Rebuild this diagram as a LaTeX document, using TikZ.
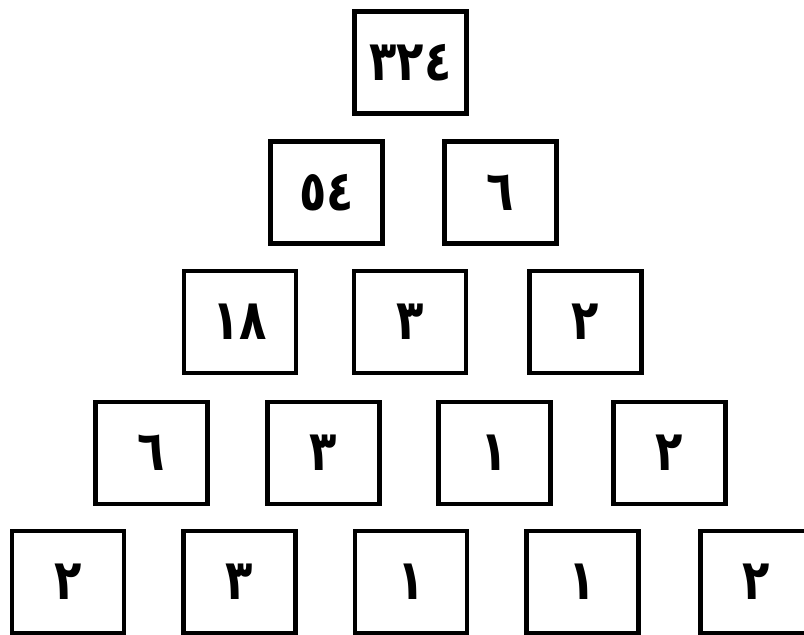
\documentclass[tikz,border=0pt]{standalone}
\usepackage{fontspec}
\newfontfamily\arabicfont[Script=Arabic,FakeStretch=0.8]{DejaVu Sans}
\begin{document}
\begin{tikzpicture}[x=1pt,y=-1pt,
  numbox/.style={draw=black,line width=4.4pt,minimum width=112pt,minimum height=102pt,inner sep=0pt,
    font=\arabicfont\bfseries\fontsize{56}{56}\selectfont},
]
\useasboundingbox (0,0) rectangle (804,635);
\clip (0,0) rectangle (804,635);
\fill[white] (0,0) rectangle (804,635);
% row 1
\node[numbox] (a1) at (410.5,62.5) {٣٢٤};
% row 2
\node[numbox] (b1) at (326.5,192.5) {٥٤};
\node[numbox] (b2) at (500.5,192.5) {٦};
% row 3
\node[numbox] (c1) at (240,322) {١٨};
\node[numbox] (c2) at (410,322) {٣};
\node[numbox] (c3) at (585.5,322) {٢};
% row 4
\node[numbox] (d1) at (151.5,453) {٦};
\node[numbox] (d2) at (323.5,453) {٣};
\node[numbox] (d3) at (494.5,453) {١};
\node[numbox] (d4) at (669.5,453) {٢};
% row 5
\node[numbox] (e1) at (68,582) {٢};
\node[numbox] (e2) at (239.5,582) {٣};
\node[numbox] (e3) at (411,582) {١};
\node[numbox] (e4) at (582.5,582) {١};
\node[numbox] (e5) at (756.5,582) {٢};
\end{tikzpicture}
\end{document}
